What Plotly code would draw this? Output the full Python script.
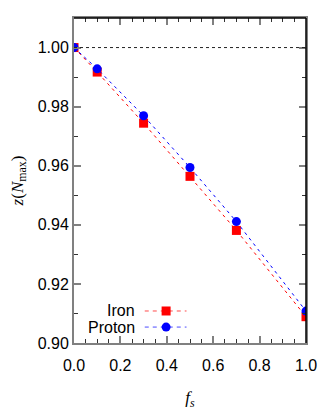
import plotly.graph_objects as go

fs = [0.0, 0.1, 0.3, 0.5, 0.7, 1.0]
iron = [1.0, 0.9917, 0.9744, 0.9564, 0.9381, 0.9089]
proton = [1.0, 0.9928, 0.9769, 0.9594, 0.9411, 0.9108]
REF_LEVEL = 1.0
x_ticks = [0.0, 0.2, 0.4, 0.6, 0.8, 1.0]
x_tick_labels = ["0.0", "0.2", "0.4", "0.6", "0.8", "1.0"]
y_ticks = [0.90, 0.92, 0.94, 0.96, 0.98, 1.00]
y_tick_labels = ["0.90", "0.92", "0.94", "0.96", "0.98", "1.00"]

RED = "#ff0000"
BLUE = "#0000ff"
GREY = "#808080"

fig = go.Figure()
fig.add_hline(y=REF_LEVEL, line=dict(color="#222", width=1, dash="dot"))
fig.add_trace(go.Scatter(x=fs, y=iron, mode="lines+markers", name="Iron",
                         line=dict(color=RED, width=1, dash="3px,4px"),
                         marker=dict(symbol="square", size=9, color=RED), showlegend=False))
fig.add_trace(go.Scatter(x=fs, y=proton, mode="lines+markers", name="Proton",
                         line=dict(color=BLUE, width=1, dash="3px,4px"),
                         marker=dict(symbol="circle", size=9, color=BLUE), showlegend=False))

font_axis = dict(family="Liberation Sans, Arial", size=16, color="black")

fig.update_xaxes(range=[0, 1], tickvals=x_ticks, ticktext=x_tick_labels,
                 ticks="inside", ticklen=7, tickwidth=1.5, tickcolor=GREY,
                 minor=dict(dtick=0.05, ticks="inside", ticklen=4, tickcolor="#333", tickwidth=1),
                 showline=True, linecolor=GREY, linewidth=2, mirror="ticks",
                 showgrid=False, zeroline=False, tickfont=font_axis, automargin=False,
                 ticklabelstandoff=7,
                 title=dict(text="<i>f<sub>s</sub></i>", standoff=18,
                            font=dict(family="Liberation Serif, DejaVu Serif", size=17, color="black")))
fig.update_yaxes(range=[0.9, 1.01], tickvals=y_ticks, ticktext=y_tick_labels,
                 ticks="inside", ticklen=7, tickwidth=1.5, tickcolor=GREY,
                 minor=dict(dtick=0.01, ticks="inside", ticklen=4, tickcolor="#333", tickwidth=1),
                 showline=True, linecolor=GREY, linewidth=2, mirror="ticks",
                 showgrid=False, zeroline=False, tickfont=font_axis, automargin=False,
                 title=dict(text="<i>z</i>(<i>N</i><sub>max</sub>)", standoff=10,
                            font=dict(family="Liberation Serif, DejaVu Serif", size=17, color="black")))

# black top and right frame edges
fig.add_shape(type="line", xref="paper", yref="paper", x0=0, x1=1, y0=1, y1=1,
              line=dict(color="black", width=1.5))
fig.add_shape(type="line", xref="paper", yref="paper", x0=1, x1=1, y0=0, y1=1,
              line=dict(color="black", width=1.5))

# manual legend (text to the left of the sample)
legend_rows = [("Iron", RED, "square", 0.0985), ("Proton", BLUE, "circle", 0.049)]
for label, col, sym, yy in legend_rows:
    fig.add_annotation(xref="paper", yref="paper", x=0.27, y=yy, text=label,
                       showarrow=False, xanchor="right", yanchor="middle",
                       font=dict(family="Liberation Sans, Arial", size=16, color="black"))
    fig.add_shape(type="line", xref="paper", yref="paper", x0=0.305, x1=0.485, y0=yy, y1=yy,
                  line=dict(color=col, width=1, dash="4px,4px"), opacity=0.7)
    hx = 4.5 / 232
    hy = 4.5 / 325
    fig.add_shape(type="rect" if sym == "square" else "circle", xref="paper", yref="paper",
                  x0=0.397 - hx, x1=0.397 + hx, y0=yy - hy, y1=yy + hy,
                  line=dict(width=0), fillcolor=col)

fig.update_layout(width=332, height=416, margin=dict(l=74, r=26, t=18, b=73),
                  plot_bgcolor="white", paper_bgcolor="white", showlegend=False)
fig.write_html("out.html", config={"displayModeBar": False},
               post_script="document.body.style.margin='0';document.body.style.overflow='hidden';")
